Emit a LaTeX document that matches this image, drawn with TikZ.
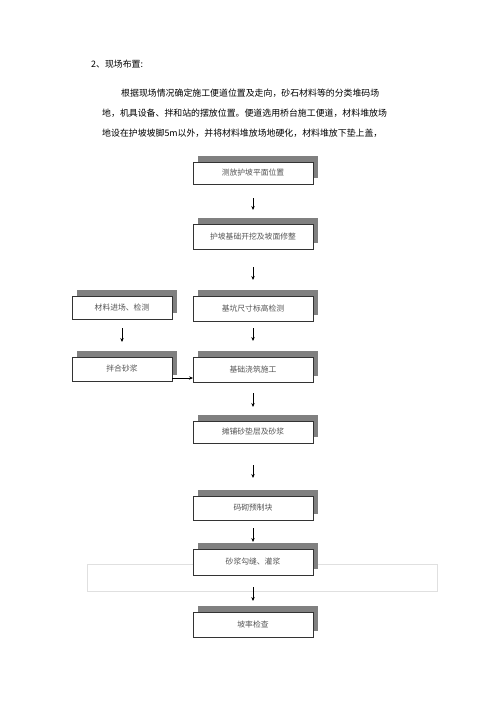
\documentclass[tikz,border=0pt]{standalone}
\usepackage{fontspec}
\setmainfont{Liberation Serif}
\newfontfamily\cjk{Noto Sans CJK SC}
\usetikzlibrary{shadows,arrows.meta}
\definecolor{shadowgray}{HTML}{808080}
\definecolor{boxtext}{HTML}{555555}
\tikzset{
  stepbox/.style={draw=black!80, line width=0.7pt, fill=white, inner sep=0pt, outer sep=0pt,
    minimum width=120pt, font=\cjk\fontsize{7.8pt}{9pt}\selectfont, text=boxtext,
    general shadow={fill=shadowgray, shadow xshift=5pt, shadow yshift=6pt}},
  sidebox/.style={stepbox, minimum width=100pt},
  arr/.style={-{Stealth[length=4pt,width=3.4pt]}, line width=0.7pt, black},
  para/.style={anchor=west, inner sep=0pt, font=\cjk\fontsize{8.9pt}{10pt}\selectfont, text=black}
}
\begin{document}
\begin{tikzpicture}[x=1pt,y=-1pt]
\fill[white] (0,0) rectangle (500,707);
\useasboundingbox (0,0) rectangle (500,707);
% text
\node[para] (h) at (91,64.5) {2、现场布置:};
\node[para] (p1) at (121,93.5) {根据现场情况确定施工便道位置及走向，砂石材料等的分类堆码场};
\node[para] (p2) at (102,113.5) {地，机具设备、拌和站的摆放位置。便道选用桥台施工便道，材料堆放场};
\node[para] (p3) at (102,133) {地设在护坡坡脚5m以外，并将材料堆放场地硬化，材料堆放下垫上盖，};
% light frame behind box 7
\draw[black!12, line width=0.8pt] (87,564) rectangle (437,591);
% boxes
\node[stepbox, minimum height=22pt] (n1) at (253,173) {测放护坡平面位置};
\node[stepbox, minimum height=25pt] (n2) at (253,236.5) {护坡基础开挖及坡面修整};
\node[stepbox, minimum height=25pt] (n3) at (253,308.5) {基坑尺寸标高检测};
\node[stepbox, minimum height=25pt] (n4) at (253,369.5) {基础浇筑施工};
\node[stepbox, minimum height=22pt] (n5) at (253,432) {摊铺砂垫层及砂浆};
\node[stepbox, minimum height=24pt] (n6) at (253,508) {码砌预制块};
\node[stepbox, minimum height=26pt] (n7) at (253,562) {砂浆勾缝、灌浆};
\node[stepbox, minimum height=25pt] (n8) at (253,624.5) {坡率检查};
\node[sidebox, minimum height=23pt] (l1) at (122,307.5) {材料进场、检测};
\node[sidebox, minimum height=24pt] (l2) at (122,369) {拌合砂浆};
% arrows
\draw[arr, shorten <=14pt, shorten >=14pt] (n1) -- (n2);
\draw[arr, shorten <=18pt, shorten >=16pt] (n2) -- (n3);
\draw[arr, shorten <=7pt, shorten >=16pt] (n3) -- (n4);
\draw[arr, shorten <=11pt, shorten >=14pt] (n4) -- (n5);
\draw[arr, shorten <=22pt, shorten >=18pt] (n5) -- (n6);
\draw[arr, shorten <=8pt, shorten >=7pt] (n6) -- (n7);
\draw[arr, shorten <=12pt, shorten >=11pt] (n7) -- (n8);
\draw[arr, shorten <=9pt, shorten >=15pt] (l1) -- (l2);
\draw[arr] ([yshift=3pt]l2.south east) -- ([yshift=3pt]l2.south east -| n4.west);
\end{tikzpicture}
\end{document}
